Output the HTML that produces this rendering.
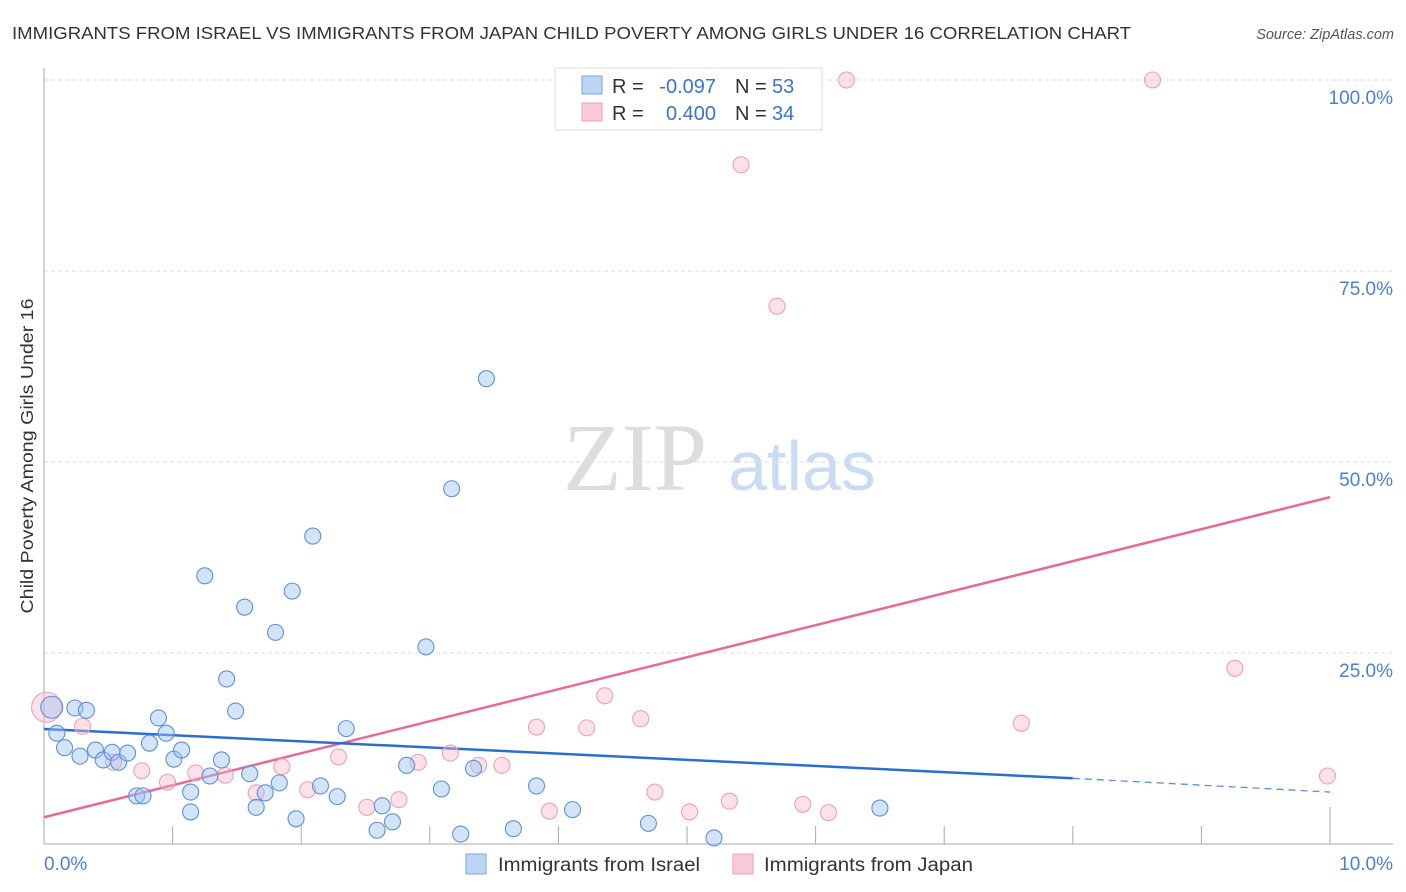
<!DOCTYPE html>
<html><head><meta charset="utf-8">
<style>
body{margin:0;background:#fff;font-family:"Liberation Sans",sans-serif;}
#wrap{position:relative;width:1406px;height:892px;overflow:hidden;}
</style></head>
<body>
<div id="wrap">
<svg id="svg" width="1406" height="892" xmlns="http://www.w3.org/2000/svg">
<text x="12" y="39" font-size="17.5" fill="#333" textLength="1119" lengthAdjust="spacingAndGlyphs">IMMIGRANTS FROM ISRAEL VS IMMIGRANTS FROM JAPAN CHILD POVERTY AMONG GIRLS UNDER 16 CORRELATION CHART</text>
<text x="1394" y="39" font-size="14.5" fill="#555" font-style="italic" text-anchor="end">Source: ZipAtlas.com</text>
<text x="635" y="490" font-size="96" fill="#ddd" font-family="Liberation Serif, serif" text-anchor="middle">ZIP</text>
<text x="802" y="490" font-size="70" fill="#c9dcf3" text-anchor="middle">atlas</text>
<text transform="translate(33,456) rotate(-90)" font-size="17.5" fill="#333" text-anchor="middle" textLength="315" lengthAdjust="spacingAndGlyphs">Child Poverty Among Girls Under 16</text>
<g id="grid"></g><g id="lines"></g><g id="pts"></g>
<text x="44" y="870" font-size="19" fill="#4a7fd8">0.0%</text>
<text x="1393" y="870" font-size="19" fill="#4a7fd8" text-anchor="end">10.0%</text>
<g>
<rect x="555" y="68" width="267" height="62" fill="#fff" stroke="#ddd"/>
<rect x="582" y="76" width="20" height="18" fill="#bcd5f5" stroke="#7aa6e0"/>
<rect x="582" y="103" width="20" height="18" fill="#fbcad8" stroke="#f0a0b8"/>
<g font-size="20" fill="#333">
<text x="612" y="93">R =</text><text x="716" y="93" text-anchor="end" fill="#3a73d0">-0.097</text>
<text x="735" y="93">N =</text><text x="772" y="93" fill="#3a73d0">53</text>
<text x="612" y="120">R =</text><text x="716" y="120" text-anchor="end" fill="#3a73d0">0.400</text>
<text x="735" y="120">N =</text><text x="772" y="120" fill="#3a73d0">34</text>
</g>
</g>
<g>
<rect x="466" y="854" width="20" height="20" fill="#bcd5f5" stroke="#7aa6e0"/>
<text x="498" y="871" font-size="19" fill="#333" textLength="202" lengthAdjust="spacingAndGlyphs">Immigrants from Israel</text>
<rect x="733" y="854" width="20" height="20" fill="#fbcad8" stroke="#f0a0b8"/>
<text x="764" y="871" font-size="19" fill="#333" textLength="209" lengthAdjust="spacingAndGlyphs">Immigrants from Japan</text>
</g>
</svg>
</div>
<script>
const israelX=[0.06,0.10,0.16,0.24,0.28,0.33,0.40,0.46,0.53,0.58,0.65,0.72,0.77,0.82,0.89,0.95,1.01,1.07,1.14,1.14,1.25,1.29,1.38,1.42,1.49,1.56,1.60,1.65,1.72,1.80,1.83,1.93,1.96,2.09,2.15,2.28,2.35,2.59,2.63,2.71,2.82,2.97,3.09,3.17,3.24,3.34,3.44,3.65,3.83,4.11,4.70,5.21,6.50];
const israelY=[17.9,14.5,12.6,17.8,11.5,17.5,12.3,11.0,12.0,10.7,11.9,6.3,6.3,13.2,16.5,14.5,11.1,12.3,4.2,6.8,35.1,8.9,11.0,21.6,17.4,31.0,9.2,4.8,6.7,27.7,8.0,33.1,3.3,40.3,7.6,6.2,15.1,1.8,5.0,2.9,10.3,25.8,7.2,46.5,1.3,9.9,60.9,2.0,7.6,4.5,2.7,0.8,4.7];
const japanX=[0.02,0.30,0.54,0.76,0.96,1.18,1.41,1.65,1.85,2.05,2.29,2.51,2.76,2.91,3.16,3.38,3.56,3.83,3.93,4.22,4.36,4.64,4.75,5.02,5.33,5.42,5.70,5.90,6.10,6.24,7.60,8.62,9.26,9.98];
const japanY=[17.9,15.4,10.7,9.6,8.1,9.3,9.0,6.7,10.1,7.1,11.4,4.8,5.8,10.7,11.9,10.3,10.3,15.3,4.3,15.2,19.4,16.4,6.8,4.2,5.6,88.9,70.4,5.2,4.1,100,15.8,100,23.0,8.9];
const israelTrend=[15.05,8.6,6.8]; // at x=0, 8, 10
const japanTrend=[3.5,45.4];       // at x=0, 10
const yTicks=[25,50,75,100];
const yTickLabels=["25.0%","50.0%","75.0%","100.0%"];
const xTicks=[1,2,3,4,5,6,7,8,9,10];

const NS="http://www.w3.org/2000/svg";
const X=v=>44+v*128.6;
const Y=v=>844-v*7.64;
function mk(parent,tag,attrs){const e=document.createElementNS(NS,tag);for(const k in attrs)e.setAttribute(k,attrs[k]);document.getElementById(parent).appendChild(e);return e;}

yTicks.forEach((t,i)=>{
  const l=mk('grid','line',{x1:44,x2:1393,y1:Y(t),y2:Y(t),stroke:'#ddd','stroke-dasharray':'4,3'});
  
  
  const tx=mk('grid','text',{x:1393,y:Y(t)+24,'font-size':19,fill:'#4a7fd8','text-anchor':'end'});
  tx.textContent=yTickLabels[i];
  
  
});
let a=mk('grid','line',{x1:44,x2:44,y1:68,y2:844,stroke:'#aaa'});


a=mk('grid','line',{x1:44,x2:1393,y1:844,y2:844,stroke:'#aaa'});


xTicks.forEach(t=>{
  const l=mk('grid','line',{x1:X(t),x2:X(t),y1:t==10?807:826,y2:844,stroke:'#aaa'});
  
  
});

let ln=mk('lines','line',{x1:X(0),y1:Y(japanTrend[0]),x2:X(10),y2:Y(japanTrend[1]),stroke:'#e8689a','stroke-width':2.5});


ln=mk('lines','line',{x1:X(0),y1:Y(israelTrend[0]),x2:X(8),y2:Y(israelTrend[1]),stroke:'#2a6fd0','stroke-width':2.5});


ln=mk('lines','line',{x1:X(8),y1:Y(israelTrend[1]),x2:X(10),y2:Y(israelTrend[2]),stroke:'#5a8fd8','stroke-width':1.3,'stroke-dasharray':'7,5'});



japanX.forEach((x,i)=>{
  const c=mk('pts','circle',{cx:X(x),cy:Y(japanY[i]),r:i==0?15:8,fill:'rgba(248,180,200,0.4)',stroke:'#f0a0b8','stroke-width':1.1});
  
  
});
israelX.forEach((x,i)=>{
  const c=mk('pts','circle',{cx:X(x),cy:Y(israelY[i]),r:i==0?11:8,fill:'rgba(160,196,240,0.45)',stroke:'#5b91dc','stroke-width':1.1});
  
  
});
</script>
</body></html>
